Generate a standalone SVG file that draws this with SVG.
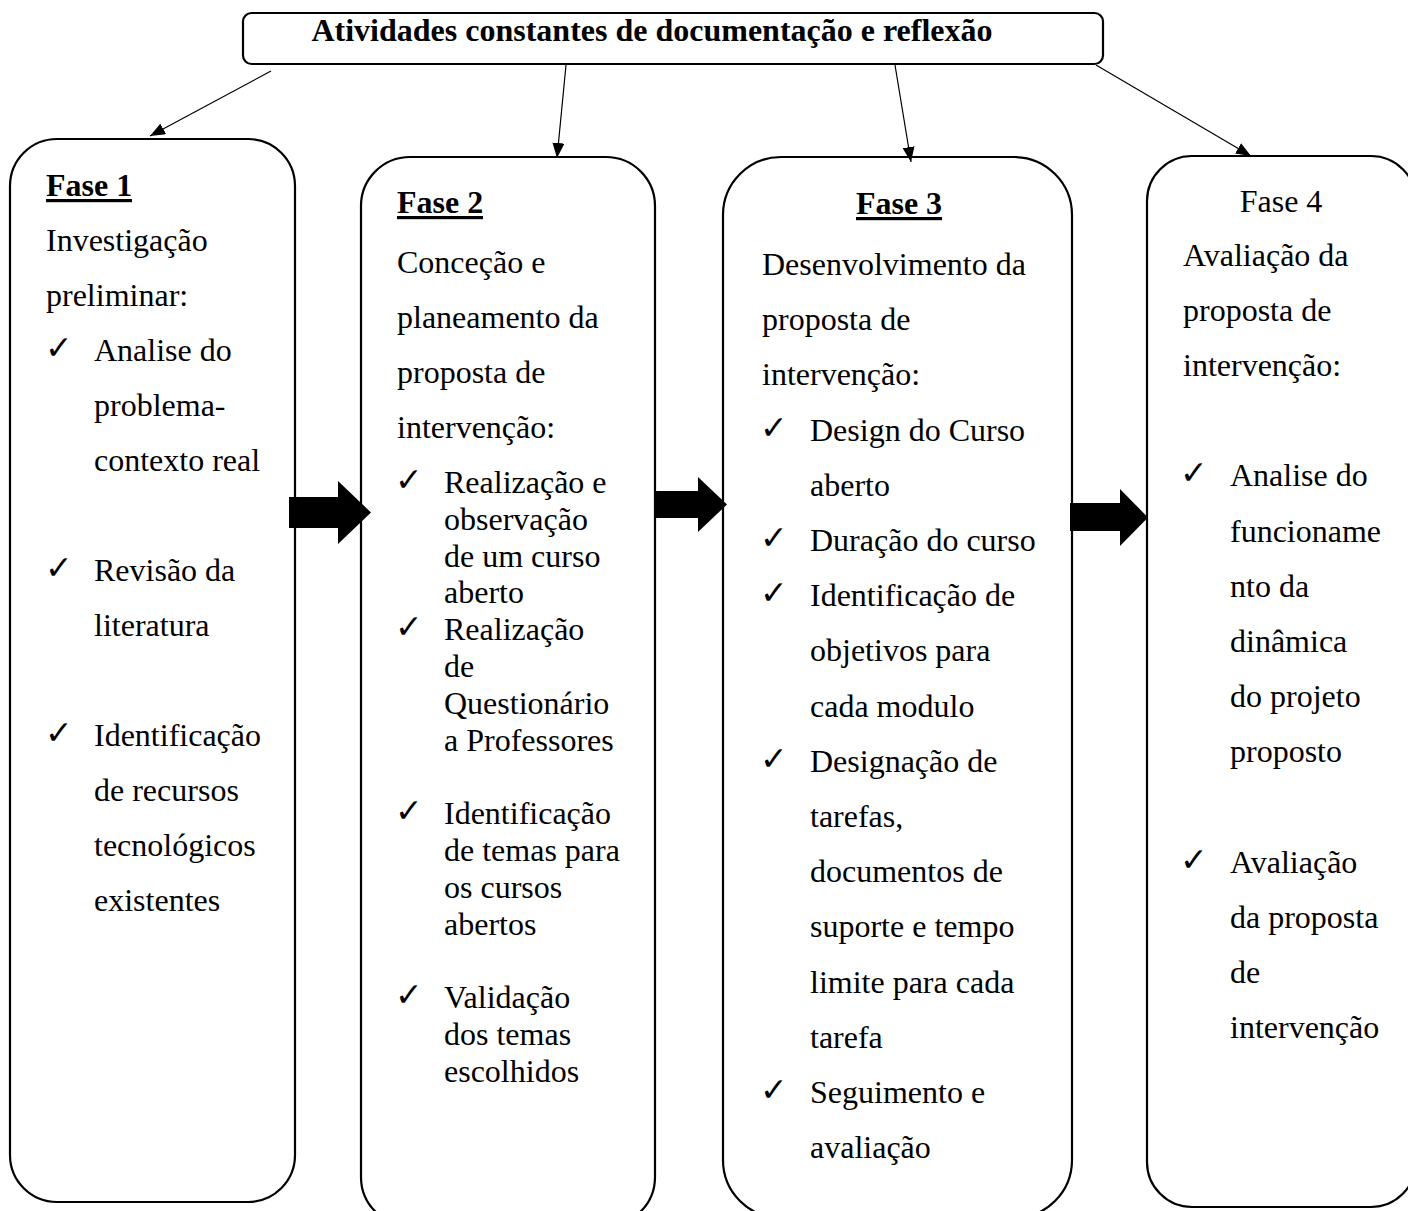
<svg xmlns="http://www.w3.org/2000/svg" width="1408" height="1211" viewBox="0 0 1408 1211">
<style>
.t{font-family:"Liberation Serif","Times New Roman",serif;font-size:32px;fill:#000}
.b{font-weight:bold}
.mid{text-anchor:middle}
.ck{font-family:"DejaVu Sans",sans-serif;font-size:33px;fill:#000}
.box{fill:#fff;stroke:#000;stroke-width:2.2}
.conn{stroke:#000;stroke-width:1.2;fill:none;marker-end:url(#ah)}
.blk{fill:#000}
</style>
<defs>
<marker id="ah" markerUnits="userSpaceOnUse" markerWidth="16" markerHeight="12" refX="15" refY="6" orient="auto">
<path d="M0,0 L15,6 L0,12 z" fill="#000"/>
</marker>
</defs>
<rect width="1408" height="1211" fill="#fff"/>

<g id="top">
<rect class="box" x="243" y="13" width="860" height="51" rx="8.5"/>
<text class="t b mid" x="652" y="41">Atividades constantes de documentação e reflexão</text>
</g>

<g id="fase1">
<rect class="box" x="10" y="139" width="285" height="1063" rx="47"/>
<text class="t b" x="46" y="196">Fase 1</text>
<rect x="46" y="199" width="86" height="3.2"/>
<text class="t" x="46" y="251">Investigação</text>
<text class="t" x="46" y="306">preliminar:</text>
<text class="ck" x="45" y="359">✓</text>
<text class="t" x="94" y="361">Analise do</text>
<text class="t" x="94" y="416">problema-</text>
<text class="t" x="94" y="471">contexto real</text>
<text class="ck" x="45" y="579">✓</text>
<text class="t" x="94" y="581">Revisão da</text>
<text class="t" x="94" y="636">literatura</text>
<text class="ck" x="45" y="744">✓</text>
<text class="t" x="94" y="746">Identificação</text>
<text class="t" x="94" y="801">de recursos</text>
<text class="t" x="94" y="856">tecnológicos</text>
<text class="t" x="94" y="911">existentes</text>
</g>

<g id="fase2">
<rect class="box" x="361" y="157" width="294" height="1069" rx="49"/>
<text class="t b" x="397" y="213">Fase 2</text>
<rect x="397" y="216" width="86" height="3.2"/>
<text class="t" x="397" y="273">Conceção e</text>
<text class="t" x="397" y="328">planeamento da</text>
<text class="t" x="397" y="383">proposta de</text>
<text class="t" x="397" y="438">intervenção:</text>
<text class="ck" x="395" y="491">✓</text>
<text class="t" x="444" y="493">Realização e</text>
<text class="t" x="444" y="529.8">observação</text>
<text class="t" x="444" y="566.6">de um curso</text>
<text class="t" x="444" y="603.4">aberto</text>
<text class="ck" x="395" y="638.2">✓</text>
<text class="t" x="444" y="640.2">Realização</text>
<text class="t" x="444" y="677">de</text>
<text class="t" x="444" y="713.8">Questionário</text>
<text class="t" x="444" y="750.6">a Professores</text>
<text class="ck" x="395" y="822.2">✓</text>
<text class="t" x="444" y="824.2">Identificação</text>
<text class="t" x="444" y="861">de temas para</text>
<text class="t" x="444" y="897.8">os cursos</text>
<text class="t" x="444" y="934.6">abertos</text>
<text class="ck" x="395" y="1006.2">✓</text>
<text class="t" x="444" y="1008.2">Validação</text>
<text class="t" x="444" y="1045">dos temas</text>
<text class="t" x="444" y="1081.8">escolhidos</text>
</g>

<g id="fase3">
<rect class="box" x="723" y="157" width="349" height="1061" rx="58"/>
<text class="t b mid" x="899" y="214">Fase 3</text>
<rect x="856" y="217" width="86" height="3.2"/>
<text class="t" x="762" y="275">Desenvolvimento da</text>
<text class="t" x="762" y="330.2">proposta de</text>
<text class="t" x="762" y="385.4">intervenção:</text>
<text class="ck" x="760" y="438.6">✓</text>
<text class="t" x="810" y="440.6">Design do Curso</text>
<text class="t" x="810" y="495.8">aberto</text>
<text class="ck" x="760" y="549">✓</text>
<text class="t" x="810" y="551">Duração do curso</text>
<text class="ck" x="760" y="604.2">✓</text>
<text class="t" x="810" y="606.2">Identificação de</text>
<text class="t" x="810" y="661.4">objetivos para</text>
<text class="t" x="810" y="716.6">cada modulo</text>
<text class="ck" x="760" y="769.8">✓</text>
<text class="t" x="810" y="771.8">Designação de</text>
<text class="t" x="810" y="827">tarefas,</text>
<text class="t" x="810" y="882.2">documentos de</text>
<text class="t" x="810" y="937.4">suporte e tempo</text>
<text class="t" x="810" y="992.6">limite para cada</text>
<text class="t" x="810" y="1047.8">tarefa</text>
<text class="ck" x="760" y="1101">✓</text>
<text class="t" x="810" y="1103">Seguimento e</text>
<text class="t" x="810" y="1158.2">avaliação</text>
</g>

<g id="fase4">
<rect class="box" x="1147" y="156" width="269" height="1051" rx="45"/>
<text class="t mid" x="1281" y="212">Fase 4</text>
<text class="t" x="1183" y="265.5">Avaliação da</text>
<text class="t" x="1183" y="320.7">proposta de</text>
<text class="t" x="1183" y="375.9">intervenção:</text>
<text class="ck" x="1180" y="484.3">✓</text>
<text class="t" x="1230" y="486.3">Analise do</text>
<text class="t" x="1230" y="541.5">funcioname</text>
<text class="t" x="1230" y="596.7">nto da</text>
<text class="t" x="1230" y="651.9">dinâmica</text>
<text class="t" x="1230" y="707.1">do projeto</text>
<text class="t" x="1230" y="762.3">proposto</text>
<text class="ck" x="1180" y="870.7">✓</text>
<text class="t" x="1230" y="872.7">Avaliação</text>
<text class="t" x="1230" y="927.9">da proposta</text>
<text class="t" x="1230" y="983.1">de</text>
<text class="t" x="1230" y="1038.3">intervenção</text>
</g>

<g id="connectors">
<line class="conn" x1="271" y1="71" x2="150" y2="136"/>
<line class="conn" x1="566" y1="65" x2="557" y2="158"/>
<line class="conn" x1="895" y1="65" x2="911" y2="162"/>
<line class="conn" x1="1096" y1="65" x2="1251" y2="156"/>
<polygon class="blk" points="289,497 338,497 338,481 371,512.5 338,544 338,528 289,528"/>
<polygon class="blk" points="655,491 698,491 698,477 727,504.5 698,532 698,518 655,518"/>
<polygon class="blk" points="1070,503 1120,503 1120,489 1148,517.5 1120,546 1120,531 1070,531"/>
</g>
</svg>
